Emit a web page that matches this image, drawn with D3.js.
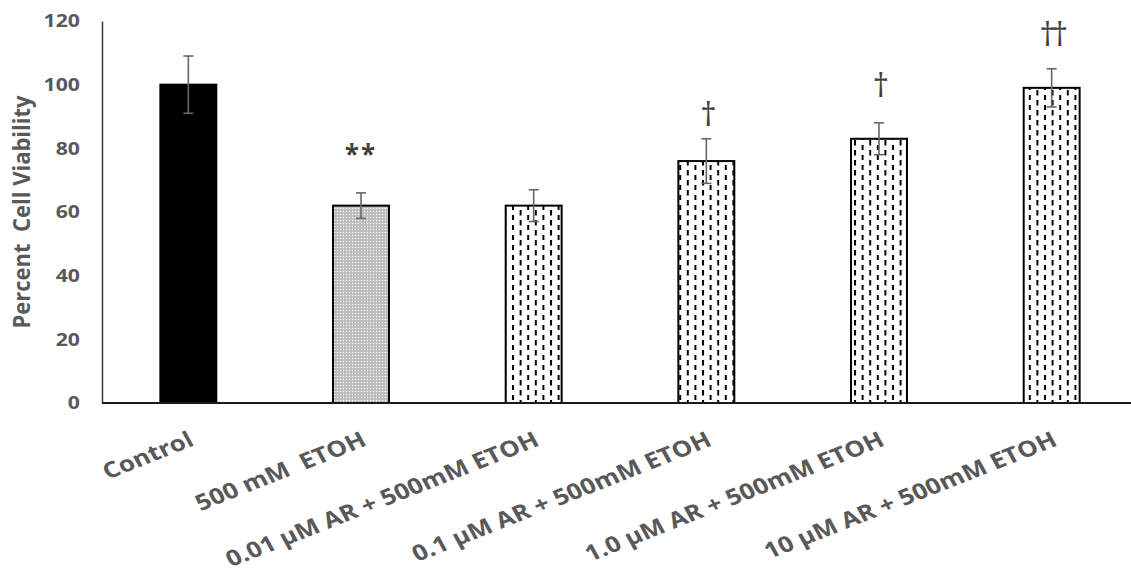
<!DOCTYPE html>
<html>
<head>
<meta charset="utf-8">
<script src="https://cdn.jsdelivr.net/npm/d3@7"></script>
<style>
  body { margin: 0; background: #fff; }
  text { font-family: "Open Sans", "DejaVu Sans", sans-serif; font-weight: bold; white-space: pre; }
</style>
</head>
<body>
<svg id="chart" width="1131" height="578"></svg>
<script>
// data
const groups = ["Control", "500 mM  ETOH", "0.01 \u00b5M AR + 500mM ETOH", "0.1 \u00b5M AR + 500mM ETOH",
                "1.0 \u00b5M AR + 500mM ETOH", "10 \u00b5M AR + 500mM ETOH"];
const viability = [100, 62, 62, 76, 83, 99];
const errors = [9, 4, 5, 7, 5, 6];
const fills = ["solid", "dots", "dash", "dash", "dash", "dash"];
const marks = ["", "**", "", "\u2020", "\u2020", "\u2020\u2020"];
const markLevel = [0, 75, 0, 87, 96, 112];
const yTicks = [0, 20, 40, 60, 80, 100, 120];

const stretch = 1.18; // the source picture is a little wider than its text

const svg = d3.select("#chart");
const defs = svg.append("defs");

// light grey dotted fill
const dots = defs.append("pattern")
    .attr("id", "dots")
    .attr("patternUnits", "userSpaceOnUse")
    .attr("width", 3).attr("height", 3);
dots.append("rect").attr("width", 3).attr("height", 3).attr("fill", "#b8b8b8");
dots.append("rect").attr("x", 0.8).attr("y", 0.8).attr("width", 1.4).attr("height", 1.4).attr("fill", "#fff");

// dashed vertical fill
const dash = defs.append("pattern")
    .attr("id", "dash")
    .attr("patternUnits", "userSpaceOnUse")
    .attr("width", 15.2).attr("height", 10);
dash.append("rect").attr("width", 15.2).attr("height", 10).attr("fill", "#fff");
dash.append("rect").attr("x", 2.8).attr("y", 0).attr("width", 2).attr("height", 5.5).attr("fill", "#000");
dash.append("rect").attr("x", 10.4).attr("y", 5).attr("width", 2).attr("height", 5.5).attr("fill", "#000");

const x = d3.scaleBand()
    .domain(groups)
    .range([102, 1138])
    .paddingInner(0.676)
    .paddingOuter(0.338);

const y = d3.scaleLinear()
    .domain([0, 120])
    .range([403, 21]);

// Y axis
const yAxis = svg.append("g")
    .attr("transform", "translate(102,0)")
    .call(d3.axisLeft(y).tickValues(yTicks).tickSize(0).tickPadding(22));
yAxis.select(".domain").attr("stroke", "#3a3a3a").attr("stroke-width", 1.5);
yAxis.selectAll("text")
    .attr("fill", "#595959")
    .style("font-size", "18px")
    .attr("x", -22 / stretch)
    .attr("transform", `scale(${stretch},1)`);

// bars
const data = groups.map((g, i) => ({g, v: viability[i], e: errors[i], f: fills[i], m: marks[i], lv: markLevel[i]}));

svg.append("g").selectAll("rect")
    .data(data)
    .join("rect")
    .attr("x", d => x(d.g))
    .attr("y", d => y(d.v))
    .attr("width", x.bandwidth())
    .attr("height", d => y(0) - y(d.v))
    .attr("fill", d => d.f === "solid" ? "#000" : `url(#${d.f})`)
    .attr("stroke", "#000")
    .attr("stroke-width", 2);

// error bars
const err = svg.append("g").attr("stroke", "#666").attr("stroke-width", 1.6);
data.forEach(d => {
    const cx = x(d.g) + x.bandwidth() / 2;
    err.append("line").attr("x1", cx).attr("x2", cx).attr("y1", y(d.v + d.e)).attr("y2", y(d.v - d.e));
    err.append("line").attr("x1", cx - 5).attr("x2", cx + 5).attr("y1", y(d.v + d.e)).attr("y2", y(d.v + d.e));
    err.append("line").attr("x1", cx - 5).attr("x2", cx + 5).attr("y1", y(d.v - d.e)).attr("y2", y(d.v - d.e));
});

// X axis line
svg.append("line")
    .attr("x1", 102).attr("x2", 1131)
    .attr("y1", y(0)).attr("y2", y(0))
    .attr("stroke", "#1a1a1a").attr("stroke-width", 2);

// significance marks
svg.append("g").selectAll("text")
    .data(data.filter(d => d.m))
    .join("text")
    .attr("x", d => x(d.g) + x.bandwidth() / 2)
    .attr("y", d => y(d.lv))
    .attr("text-anchor", "middle")
    .attr("fill", "#404040")
    .style("font-size", d => d.m === "**" ? "26px" : "32px")
    .style("font-weight", d => d.m === "**" ? "bold" : "normal")
    .style("letter-spacing", d => d.m === "**" ? "2px" : "-4px")
    .text(d => d.m);

// rotated category labels
svg.append("g").selectAll("text")
    .data(data)
    .join("text")
    .attr("text-anchor", "end")
    .attr("fill", "#595959")
    .style("font-size", "22px")
    .attr("transform", d => `translate(${x(d.g) + x.bandwidth() / 2 + 7},445) scale(${stretch},1) rotate(-25)`)
    .text(d => d.g);

// Y title
svg.append("text")
    .attr("text-anchor", "middle")
    .attr("fill", "#595959")
    .style("font-size", "22px")
    .attr("transform", `translate(30,212) scale(1.05,1) rotate(-90)`)
    .text("Percent  Cell Viability");
</script>
</body>
</html>
